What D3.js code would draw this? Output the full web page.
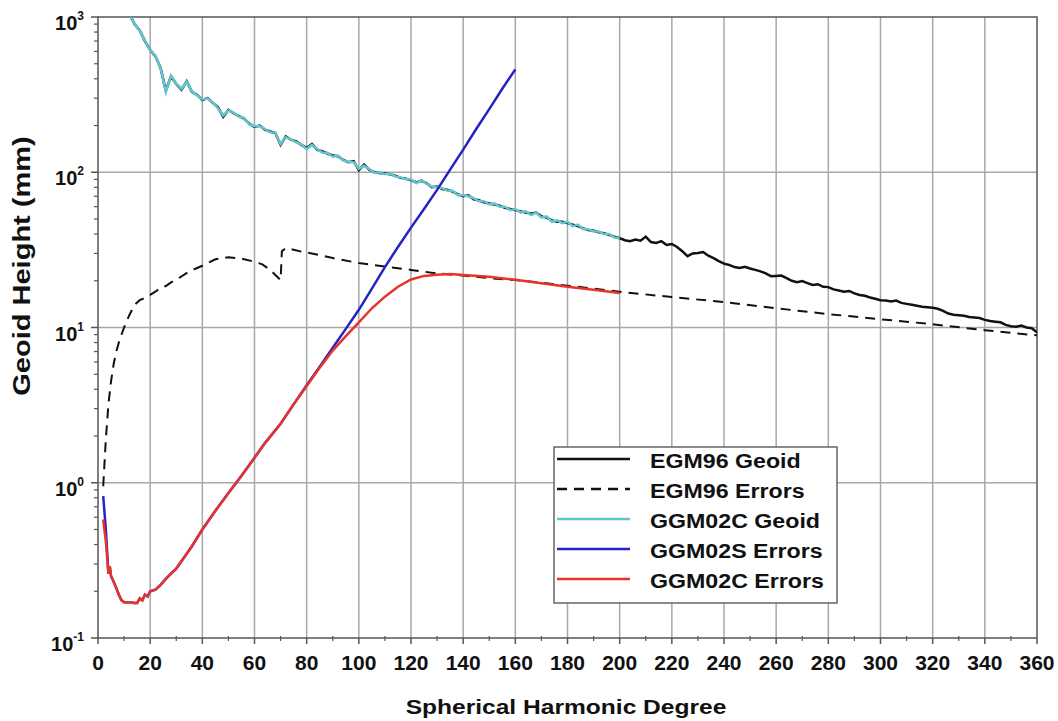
<!DOCTYPE html>
<html>
<head>
<meta charset="utf-8">
<script src="https://cdn.jsdelivr.net/npm/d3@7"></script>
<style>
body{margin:0;background:#fff;}
text{font-family:"Liberation Sans",Arial,Helvetica,sans-serif;font-weight:bold;fill:#111;}
</style>
</head>
<body>
<svg id="chart" width="1058" height="721"></svg>
<script>
// degrees for the geoid curves (every 2nd degree)
var geoidDeg=d3.range(10,361,2);
// EGM96 geoid height per degree, mm
var egm96Geoid=[1300,1050,900,820,700,613,560,470,335,415,370,340,385,330,315,292,300,280,262,228,
252,240,230,222,205,196,200,188,183,179,150,170,162,158,150,143,152,140,136,132,
128,127,120,116,118,103,112,104,100,99,98,97,95,92,91,89,86,88,85,80,
81,78,77,75,72,70,71,67,66,64,63,62,61,59,58,57,56,55,54,55,
52,51,49,48,48,47,46,45,43.5,42.5,42,41,40.5,39.5,38.5,37.6,36.5,36,36.8,36.2,
38.5,35.5,35,36,34,34.5,33,31,28.8,30,30.2,30.6,29,28,26.8,25.8,25.3,24.5,24.2,24.6,
24,23.5,23,22.3,21.4,21.5,21.6,20.8,20,19.6,19.9,19.3,18.8,19,18.3,18.2,17.6,17.3,17,17.2,
16.6,16.2,16,15.6,15.3,15,14.9,14.7,14.9,14.4,14.2,14,13.8,13.6,13.5,13.4,13.2,12.8,12.3,12.1,
12,11.9,11.7,11.6,11.5,11.2,11,10.9,10.8,10.4,10.2,10.1,10.3,10,9.9,9.3];
// GGM02C geoid (degrees 10..200)
var ggm02cGeoid=[1300,1040,905,815,705,610,565,468,330,418,372,345,382,332,312,294,298,282,258,232,
250,242,228,224,203,198,198,190,181,180,152,168,163,156,151,141,150,141,134,133,
126,128,119,117,116,105,110,105,99,100,97,98,94,93,90,90,85,89,84,81,
80,79,76,76,71,71,70,68,65,65,62,63,60,60,57,58,55,56,53,55,
51,52,48,49,47,48,45,46,43,43,41.5,41.5,40,40,38,37.6];

// EGM96 error degree variances
var egm96ErrDeg=[2,3,4,5,6,7,8,9,10,12,14,16,18,20,22,24,26,28,30,35,40,45,50,55,60,63,66,68,70,70.5,72,74,78,82,86,90,100,110,120,130,140,150,160,170,180,190,200,220,240,260,280,300,320,340,360];
var egm96Err=[0.95,1.9,3.2,4.5,5.8,7.0,8.0,9.0,10,12,14,15,15.5,16.2,17,18,18.5,19.5,20.3,23,25,27.5,28.3,27.8,26.5,25.5,23.5,21.8,20.2,31,32.5,32,30.8,30,29,28,26,24.7,23.5,22.3,21.6,20.8,20.2,19.4,18.6,17.8,17,15.7,14.6,13.3,12.2,11.3,10.5,9.6,8.9];

// GGM02C errors
var ggm02cErrDeg=[2,3,4,4.5,5,6,7,8,9,10,12,14,15,16,17,18,19,20,22,24,26,28,30,33,36,40,45,50,53,56,60,64,70,75,80,85,90,95,100,105,110,115,120,125,130,135,140,150,160,170,180,190,200];
var ggm02cErr=[0.58,0.42,0.26,0.29,0.25,0.23,0.21,0.19,0.175,0.17,0.17,0.168,0.168,0.18,0.175,0.19,0.185,0.2,0.205,0.22,0.24,0.26,0.28,0.33,0.39,0.5,0.66,0.86,1.0,1.17,1.45,1.8,2.4,3.2,4.2,5.5,7.1,8.8,10.8,13.3,15.8,18.3,20.4,21.5,21.9,22.1,21.8,21.2,20.3,19.3,18.3,17.5,16.7];

// GGM02S errors
var ggm02sErrDeg=[2,3,4,4.5,5,6,7,8,9,10,12,14,15,16,17,18,19,20,22,24,26,28,30,33,36,40,45,50,53,56,60,64,70,75,80,85,90,95,100,105,110,115,120,125,130,135,140,145,150,155,160];
var ggm02sErr=[0.82,0.5,0.26,0.29,0.25,0.23,0.21,0.19,0.175,0.17,0.17,0.168,0.168,0.18,0.175,0.19,0.185,0.2,0.205,0.22,0.24,0.26,0.28,0.33,0.39,0.5,0.66,0.86,1.0,1.17,1.45,1.8,2.4,3.2,4.25,5.6,7.4,9.8,13,17.8,24.5,33,44,58,77,104,140,190,255,345,460];

var xTicks=d3.range(0,361,20);
var yTicks=[0.1,1,10,100,1000];
var yExp=["-1","0","1","2","3"];

var legendItems=[
 {name:"EGM96 Geoid",color:"#111",dash:null},
 {name:"EGM96 Errors",color:"#111",dash:"10,7"},
 {name:"GGM02C Geoid",color:"#62c6cf",dash:null},
 {name:"GGM02S Errors",color:"#2424c4",dash:null},
 {name:"GGM02C Errors",color:"#e8332b",dash:null}
];

var svg=d3.select("#chart");
var L=98,R=1037,T=17,B=638;
var x=d3.scaleLinear().domain([0,360]).range([L,R]);
var y=d3.scaleLog().domain([0.1,1000]).range([B,T]);

// grid
svg.append("g").selectAll("line").data(xTicks.filter(function(d){return d>0&&d<360;})).enter().append("line")
 .attr("x1",function(d){return x(d);}).attr("x2",function(d){return x(d);})
 .attr("y1",T).attr("y2",B).attr("stroke","#a8a8a8").attr("stroke-width",1.5);
svg.append("g").selectAll("line").data([1,10,100]).enter().append("line")
 .attr("x1",L).attr("x2",R).attr("y1",function(d){return y(d);}).attr("y2",function(d){return y(d);})
 .attr("stroke","#a8a8a8").attr("stroke-width",1.5);

// frame
svg.append("rect").attr("x",L).attr("y",T).attr("width",R-L).attr("height",B-T)
 .attr("fill","none").attr("stroke","#555").attr("stroke-width",1.5);

// axes ticks
var minorY=[];
[0.1,1,10,100].forEach(function(b){for(var k=2;k<10;k++)minorY.push(b*k);});
svg.append("g").selectAll("line").data(minorY).enter().append("line")
 .attr("x1",L-4).attr("x2",L).attr("y1",function(d){return y(d);}).attr("y2",function(d){return y(d);})
 .attr("stroke","#555").attr("stroke-width",1.2);
svg.append("g").selectAll("line").data(yTicks).enter().append("line")
 .attr("x1",L-7).attr("x2",L).attr("y1",function(d){return y(d);}).attr("y2",function(d){return y(d);})
 .attr("stroke","#555").attr("stroke-width",1.5);
svg.append("g").selectAll("line").data(xTicks).enter().append("line")
 .attr("x1",function(d){return x(d);}).attr("x2",function(d){return x(d);})
 .attr("y1",B).attr("y2",B+6).attr("stroke","#555").attr("stroke-width",1.5);
svg.append("g").selectAll("line").data(d3.range(10,360,20)).enter().append("line")
 .attr("x1",function(d){return x(d);}).attr("x2",function(d){return x(d);})
 .attr("y1",B-2).attr("y2",B+3).attr("stroke","#555").attr("stroke-width",1.2);

// tick labels
svg.append("g").selectAll("text").data(xTicks).enter().append("text")
 .attr("x",function(d){return x(d);}).attr("y",670).attr("text-anchor","middle")
 .style("font-size","21px").text(function(d){return d;});
var yl=svg.append("g").selectAll("text").data(yTicks).enter().append("text")
 .attr("x",84).attr("y",function(d){return y(d)+13;}).attr("text-anchor","end")
 .style("font-size","20px");
yl.append("tspan").text("10");
yl.append("tspan").attr("dy",-10).style("font-size","12px").text(function(d,i){return yExp[i];});

// titles
svg.append("text").attr("transform","translate(566,714) scale(1.17,1)").attr("text-anchor","middle")
 .style("font-size","21px").text("Spherical Harmonic Degree");
svg.append("text").attr("transform","translate(30,266) rotate(-90) scale(1.32,1.05)").attr("text-anchor","middle")
 .style("font-size","22px").text("Geoid Height (mm)");

// curves
svg.append("clipPath").attr("id","plotclip").append("rect").attr("x",L).attr("y",T).attr("width",R-L).attr("height",B-T);
var plot=svg.append("g").attr("clip-path","url(#plotclip)");
var line=d3.line().x(function(d){return x(d[0]);}).y(function(d){return y(d[1]);});
function pairs(xs,ys){return ys.map(function(v,i){return [xs[i],v];});}

plot.append("path").datum(pairs(geoidDeg,egm96Geoid)).attr("d",line)
 .attr("fill","none").attr("stroke","#111").attr("stroke-width",2.5);
plot.append("path").datum(pairs(egm96ErrDeg,egm96Err)).attr("d",line)
 .attr("fill","none").attr("stroke","#111").attr("stroke-width",2).attr("stroke-dasharray","10,7");
plot.append("path").datum(pairs(geoidDeg,ggm02cGeoid)).attr("d",line)
 .attr("fill","none").attr("stroke","#62c6cf").attr("stroke-width",2.5);
plot.append("path").datum(pairs(ggm02sErrDeg,ggm02sErr)).attr("d",line)
 .attr("fill","none").attr("stroke","#2424c4").attr("stroke-width",2.5);
plot.append("path").datum(pairs(ggm02cErrDeg,ggm02cErr)).attr("d",line)
 .attr("fill","none").attr("stroke","#e8332b").attr("stroke-width",2.5);

// legend
var lg=svg.append("g");
lg.append("rect").attr("x",554).attr("y",447).attr("width",283).attr("height",156)
 .attr("fill","#fff").attr("stroke","#666").attr("stroke-width",1.5);
var li=lg.selectAll("g.item").data(legendItems).enter().append("g").attr("class","item")
 .attr("transform",function(d,i){return "translate(0,"+(459+i*30)+")";});
li.append("line").attr("x1",557).attr("x2",630).attr("y1",0).attr("y2",0)
 .attr("stroke",function(d){return d.color;}).attr("stroke-width",2.5)
 .attr("stroke-dasharray",function(d){return d.dash;});
li.append("text").attr("transform","translate(650,9) scale(1.16,1)")
 .style("font-size","20px").text(function(d){return d.name;});
</script>
</body>
</html>
